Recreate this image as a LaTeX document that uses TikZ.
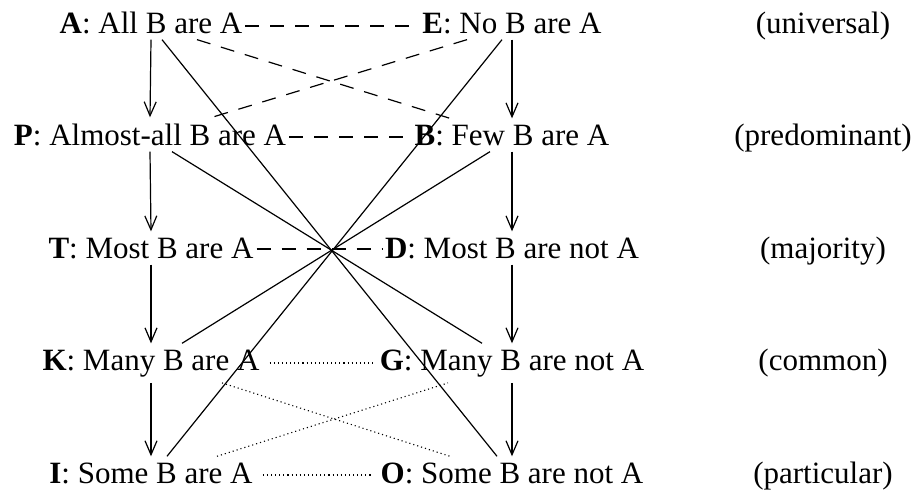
\documentclass[tikz,border=0pt]{standalone}
\usepackage{fontspec}
\setmainfont{LiberationSerif}[Extension=.ttf,UprightFont=*-Regular,BoldFont=*-Bold,ItalicFont=*-Italic,BoldItalicFont=*-BoldItalic]
\usetikzlibrary{arrows.meta}
\begin{document}
\begin{tikzpicture}[x={(1pt,0)},y={(0,-1pt)},
  lbl/.style={inner xsep=3pt,inner ysep=6pt,anchor=base,font=\fontsize{31}{37}\selectfont},
  arr/.style={line width=1.2pt,-{Straight Barb[length=14pt,width=12pt,line width=1.2pt]}},
  sol/.style={line width=1.2pt},
  dsh/.style={line width=1.2pt,dash pattern=on 14pt off 11pt},
  dot/.style={line width=1.1pt,dash pattern=on 1.1pt off 3pt}]
\useasboundingbox (0,0) rectangle (920,491);
% left column
\node[lbl] (A) at (151,33) {\textbf{A}: All B are A};
\node[lbl] (P) at (150,145) {\textbf{P}: Almost-all B are A};
\node[lbl] (T) at (151,258) {\textbf{T}: Most B are A};
\node[lbl] (K) at (151,370) {\textbf{K}: Many B are A};
\node[lbl] (I) at (151,483) {\textbf{I}: Some B are A};
% right column
\node[lbl] (E) at (512,33) {\textbf{E}: No B are A};
\node[lbl] (B) at (512,145) {\textbf{B}: Few B are A};
\node[lbl] (D) at (512,258) {\textbf{D}: Most B are not A};
\node[lbl] (G) at (512,370) {\textbf{G}: Many B are not A};
\node[lbl] (O) at (512,483) {\textbf{O}: Some B are not A};
% categories
\node[lbl] (c1) at (823,33) {(universal)};
\node[lbl] (c2) at (823,145) {(predominant)};
\node[lbl] (c3) at (823,258) {(majority)};
\node[lbl] (c4) at (823,370) {(common)};
\node[lbl] (c5) at (823,483) {(particular)};
% vertical arrows
\draw[arr] (A.south) -- (P.north);
\draw[arr] (P.south) -- (T.north);
\draw[arr] (T.south) -- (K.north);
\draw[arr] (K.south) -- (I.north);
\draw[arr] (E.south) -- (B.north);
\draw[arr] (B.south) -- (D.north);
\draw[arr] (D.south) -- (G.north);
\draw[arr] (G.south) -- (O.north);
% dashed contraries
\draw[dsh] ([yshift=7pt]A.base east) -- ([yshift=7pt]E.base west);
\draw[dsh] ([yshift=8pt]P.base east) -- ([yshift=8pt]B.base west);
\draw[dsh] ([yshift=9pt]T.base east) -- ([yshift=9pt]D.base west);
\draw[dsh] ([xshift=46pt]A.south) -- ([xshift=-62pt]B.north);
\draw[dsh] ([xshift=-45pt]E.south) -- ([xshift=62pt]P.north);
% dotted subcontraries
\draw[dot] ([xshift=7pt,yshift=7pt]K.base east) -- ([xshift=-4pt,yshift=7pt]G.base west);
\draw[dot] ([xshift=7pt,yshift=8pt]I.base east) -- ([xshift=-4pt,yshift=8pt]O.base west);
\draw[dot] ([xshift=71pt]K.south) -- ([xshift=-62pt]O.north);
\draw[dot] ([xshift=66pt]I.north) -- ([xshift=-64pt]G.south);
% solid contradictories
\draw[sol] ([xshift=11pt]A.south) -- ([xshift=-15pt]O.north);
\draw[sol] ([xshift=-10pt]E.south) -- ([xshift=16pt]I.north);
\draw[sol] ([xshift=22pt]P.south) -- ([xshift=-30pt]G.north);
\draw[sol] ([xshift=-22pt]B.south) -- ([xshift=31pt]K.north);
\end{tikzpicture}
\end{document}
